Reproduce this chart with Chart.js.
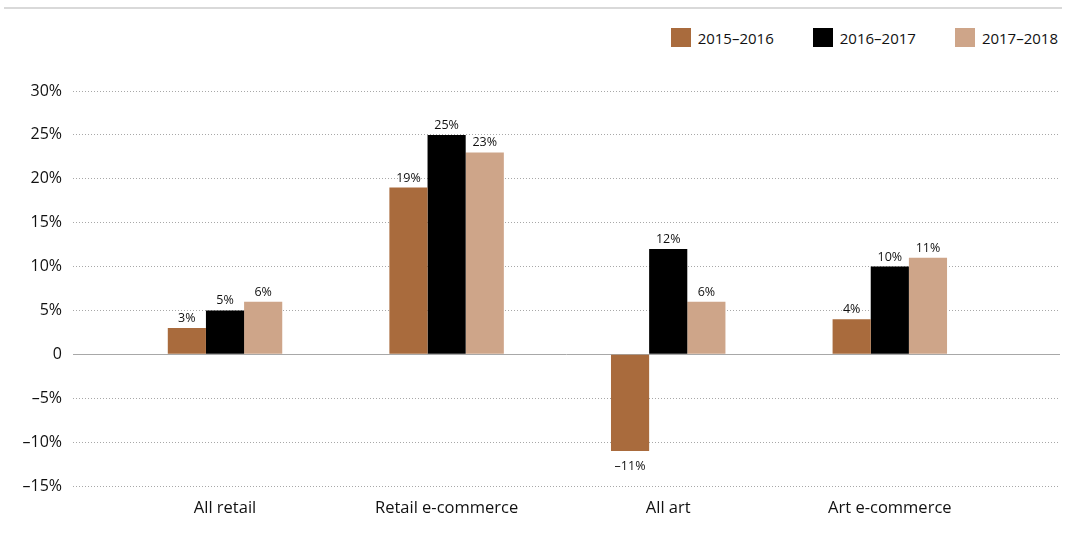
<!DOCTYPE html>
<html>
<head>
    <title>Sales growth</title>
    <script src="https://cdn.jsdelivr.net/npm/chart.js"></script>
    <style>
        body { margin: 0; background: #fff; font-family: "Open Sans", sans-serif; }
        #wrap { position: relative; width: 1070px; height: 549px; }
        #topLine { position: absolute; left: 4px; top: 7px; width: 1058px; height: 2px; background: #d9d9d9; }
        #legend { position: absolute; right: 12px; top: 28px; display: flex; gap: 39px; font-size: 15px; color: #111; }
        #legend .item { display: flex; align-items: center; height: 19px; }
        #legend .box { width: 20px; height: 19px; margin-right: 7px; }
        canvas { position: absolute; left: 0; top: 0; }
    </style>
</head>
<body>
    <div id="wrap">
        <div id="topLine"></div>
        <div id="legend"></div>
        <canvas id="myChart" width="1070" height="549"></canvas>
    </div>
    <script>
        const categories = ['All retail', 'Retail e-commerce', 'All art', 'Art e-commerce'];
        const seriesNames = ['2015–2016', '2016–2017', '2017–2018'];
        const values1516 = [3, 19, -11, 4];
        const values1617 = [5, 25, 12, 10];
        const values1718 = [6, 23, 6, 11];
        const yTickValues = [30, 25, 20, 15, 10, 5, 0, -5, -10, -15];
        const colors = ['#a96b3d', '#000000', '#cea589'];

        function fmt(v) {
            if (v === 0) return '0';
            return (v < 0 ? '–' + Math.abs(v) : v) + '%';
        }

        // html legend, right aligned above the plot
        const legendEl = document.getElementById('legend');
        seriesNames.forEach((name, i) => {
            const item = document.createElement('div');
            item.className = 'item';
            item.innerHTML = '<span class="box" style="background:' + colors[i] + '"></span><span>' + name + '</span>';
            legendEl.appendChild(item);
        });

        const valueLabels = {
            id: 'valueLabels',
            afterDatasetsDraw(chart) {
                const ctx = chart.ctx;
                ctx.save();
                ctx.font = '12.5px "Open Sans"';
                ctx.fillStyle = '#111';
                ctx.textAlign = 'center';
                chart.data.datasets.forEach((ds, di) => {
                    chart.getDatasetMeta(di).data.forEach((bar, i) => {
                        const v = ds.data[i].y;
                        if (v >= 0) {
                            ctx.textBaseline = 'alphabetic';
                            ctx.fillText(fmt(v), bar.x, bar.y - 6);
                        } else {
                            ctx.textBaseline = 'top';
                            ctx.fillText(fmt(v), bar.x, bar.y + 9);
                        }
                    });
                });
                ctx.restore();
            }
        };

        const seriesValues = [values1516, values1617, values1718];

        new Chart(document.getElementById('myChart').getContext('2d'), {
            type: 'bar',
            data: {
                datasets: seriesValues.map((vals, i) => ({
                    label: seriesNames[i],
                    data: vals.map((v, j) => ({ x: j, y: v })),
                    backgroundColor: colors[i],
                    borderWidth: 0,
                    barPercentage: 1,
                    categoryPercentage: 0.5165
                }))
            },
            options: {
                responsive: false,
                animation: false,
                layout: { padding: { top: 91, right: 10, bottom: 0, left: 0 } },
                plugins: {
                    legend: { display: false },
                    tooltip: { enabled: false }
                },
                scales: {
                    x: {
                        type: 'linear',
                        min: -0.686,
                        max: 3.768,
                        offset: false,
                        grid: { display: false },
                        border: { display: false },
                        afterBuildTicks: scale => { scale.ticks = categories.map((c, i) => ({ value: i })); },
                        afterFit: scale => { scale.height = 63; },
                        ticks: {
                            autoSkip: false,
                            maxRotation: 0,
                            padding: 4,
                            color: '#111',
                            font: { family: 'Open Sans', size: 16.5 },
                            callback: v => categories[v] ?? ''
                        }
                    },
                    y: {
                        min: -15,
                        max: 30,
                        afterBuildTicks: scale => { scale.ticks = yTickValues.map(v => ({ value: v })); },
                        afterFit: scale => { scale.width = 73; },
                        grid: {
                            drawTicks: false,
                            color: '#a8a8a8',
                            lineWidth: 1
                        },
                        border: {
                            display: false,
                            dash: c => (c.tick && c.tick.value === 0) ? [] : [1, 2]
                        },
                        ticks: {
                            padding: 11,
                            color: '#111',
                            font: { family: 'Open Sans', size: 16 },
                            callback: v => fmt(v)
                        }
                    }
                }
            },
            plugins: [valueLabels]
        });
    </script>
</body>
</html>
